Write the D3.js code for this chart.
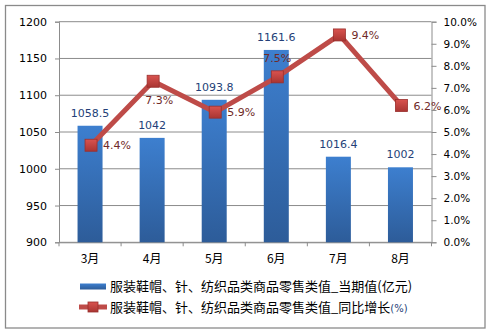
<!DOCTYPE html>
<html>
<head>
<meta charset="utf-8">
<script src="https://cdn.jsdelivr.net/npm/d3@7"></script>
<style>
  html, body { margin: 0; padding: 0; background: #fff; }
  svg { display: block; }
</style>
</head>
<body>
<svg id="chart" width="490" height="333"></svg>
<script>
// Monthly retail sales: clothing, shoes, hats, needles & textiles
const months = ["3月", "4月", "5月", "6月", "7月", "8月"];
const salesValue = [1058.5, 1042, 1093.8, 1161.6, 1016.4, 1002];   // 亿元
const yoyGrowth = [4.4, 7.3, 5.9, 7.5, 9.4, 6.2];                  // %
const leftTicks = [900, 950, 1000, 1050, 1100, 1150, 1200];
const rightTicks = [0, 1, 2, 3, 4, 5, 6, 7, 8, 9, 10];
const growthLabelSide = ["right", "below", "right", "above", "right", "right"];
const legendNames = ["服装鞋帽、针、纺织品类商品零售类值_当期值(亿元)", "服装鞋帽、针、纺织品类商品零售类值_同比增长"];

const svg = d3.select("#chart");
const numFont = "'DejaVu Sans', Verdana, sans-serif";
const cjkFont = "'Noto Sans CJK SC', sans-serif";

const plot = { left: 59, right: 431.5, top: 21.7, bottom: 242.3 };

const x = d3.scaleBand().domain(months).range([plot.left, plot.right]).paddingInner(0).paddingOuter(0);
const yL = d3.scaleLinear().domain([900, 1200]).range([plot.bottom, plot.top]);
const yR = d3.scaleLinear().domain([0, 10]).range([plot.bottom, plot.top]);

// gradients
const defs = svg.append("defs");
const barGrad = defs.append("linearGradient").attr("id", "barGrad").attr("x1", 0).attr("y1", 0).attr("x2", 0).attr("y2", 1);
barGrad.append("stop").attr("offset", "0%").attr("stop-color", "#3d7fcf");
barGrad.append("stop").attr("offset", "100%").attr("stop-color", "#2d5c99");
const mkGrad = defs.append("linearGradient").attr("id", "mkGrad").attr("x1", 0).attr("y1", 0).attr("x2", 0).attr("y2", 1);
mkGrad.append("stop").attr("offset", "0%").attr("stop-color", "#d9534f");
mkGrad.append("stop").attr("offset", "100%").attr("stop-color", "#a93532");

// outer frame
svg.append("rect").attr("x", 5.5).attr("y", 5.5).attr("width", 479.5).attr("height", 322.5)
  .attr("fill", "#fff").attr("stroke", "#8a8a8a").attr("stroke-width", 1.3);

// horizontal gridlines
svg.append("g").selectAll("line").data(leftTicks).join("line")
  .attr("x1", plot.left).attr("x2", plot.right)
  .attr("y1", d => yL(d)).attr("y2", d => yL(d))
  .attr("stroke", "#8c8c8c").attr("stroke-width", 1);

// left axis
const axL = svg.append("g").attr("transform", `translate(${plot.left},0)`)
  .call(d3.axisLeft(yL).tickValues(leftTicks).tickSize(4).tickPadding(8).tickFormat(d3.format("d")));
axL.select(".domain").attr("stroke", "#8c8c8c");
axL.selectAll(".tick line").attr("stroke", "#8c8c8c");
axL.selectAll("text").attr("font-family", numFont).attr("font-size", 11).attr("fill", "#000");

// right axis
const axR = svg.append("g").attr("transform", `translate(${plot.right},0)`)
  .call(d3.axisRight(yR).tickValues(rightTicks).tickSize(5).tickPadding(7).tickFormat(d => d.toFixed(1) + "%"));
axR.select(".domain").attr("stroke", "#8c8c8c");
axR.selectAll(".tick line").attr("stroke", "#8c8c8c");
axR.selectAll("text").attr("font-family", numFont).attr("font-size", 10.5).attr("fill", "#000");

// bottom axis with ticks on category boundaries
const axB = svg.append("g").attr("transform", `translate(0,${plot.bottom})`)
  .call(d3.axisBottom(x).tickSize(0).tickPadding(12));
axB.select(".domain").attr("stroke", "#8c8c8c");
axB.selectAll("text").attr("font-family", cjkFont).attr("font-size", 12).attr("fill", "#000");
const bounds = months.map(m => x(m)).concat([plot.right]);
svg.append("g").selectAll("line").data(bounds).join("line")
  .attr("x1", d => d).attr("x2", d => d)
  .attr("y1", plot.bottom).attr("y2", plot.bottom + 4)
  .attr("stroke", "#8c8c8c");

// bars
const barW = 25;
svg.append("g").selectAll("rect").data(salesValue).join("rect")
  .attr("x", (d, i) => x(months[i]) + x.bandwidth() / 2 - barW / 2)
  .attr("y", d => yL(d))
  .attr("width", barW)
  .attr("height", d => yL(900) - yL(d))
  .attr("fill", "url(#barGrad)");

// bar value labels
svg.append("g").selectAll("text").data(salesValue).join("text")
  .attr("x", (d, i) => x(months[i]) + x.bandwidth() / 2)
  .attr("y", d => yL(d) - 9)
  .attr("text-anchor", "middle")
  .attr("font-family", numFont).attr("font-size", 11)
  .attr("fill", "#243f78")
  .text(d => d3.format("")(d));

// growth line
const cx = (d, i) => x(months[i]) + x.bandwidth() / 2 + 1;
const line = d3.line().x((d, i) => cx(d, i)).y(d => yR(d));
svg.append("path").datum(yoyGrowth)
  .attr("d", line).attr("fill", "none")
  .attr("stroke", "#be4b48").attr("stroke-width", 5).attr("stroke-linejoin", "round");

// markers
const mk = 12;
svg.append("g").selectAll("rect").data(yoyGrowth).join("rect")
  .attr("x", (d, i) => cx(d, i) - mk / 2)
  .attr("y", d => yR(d) - mk / 2)
  .attr("width", mk).attr("height", mk)
  .attr("fill", "url(#mkGrad)").attr("stroke", "#9a2f2c").attr("stroke-width", 0.8);

// growth labels
svg.append("g").selectAll("text").data(yoyGrowth).join("text")
  .attr("x", (d, i) => {
    const side = growthLabelSide[i];
    return side === "right" ? cx(d, i) + 12 : cx(d, i) + (side === "below" ? 6 : 0);
  })
  .attr("y", (d, i) => {
    const side = growthLabelSide[i];
    const base = yR(d) + 4;
    return side === "below" ? base + 19 : side === "above" ? base - 19 : base;
  })
  .attr("text-anchor", (d, i) => growthLabelSide[i] === "right" ? "start" : "middle")
  .attr("font-family", numFont).attr("font-size", 11)
  .attr("fill", "#6f2a28")
  .text(d => d.toFixed(1) + "%");

// legend
const lg = svg.append("g");
const lgY = [286.5, 307];
lg.append("rect").attr("x", 80).attr("y", lgY[0] - 3).attr("width", 26).attr("height", 6).attr("fill", "url(#barGrad)");
lg.append("line").attr("x1", 79).attr("x2", 107).attr("y1", lgY[1]).attr("y2", lgY[1])
  .attr("stroke", "#be4b48").attr("stroke-width", 5);
lg.append("rect").attr("x", 93 - 5).attr("y", lgY[1] - 5).attr("width", 10).attr("height", 10)
  .attr("fill", "url(#mkGrad)").attr("stroke", "#9a2f2c").attr("stroke-width", 0.8);
lg.append("text").attr("x", 110).attr("y", lgY[0] + 4.5)
  .attr("font-family", cjkFont).attr("font-size", 13).attr("fill", "#000")
  .text(legendNames[0]);
const t2 = lg.append("text").attr("x", 110).attr("y", lgY[1] + 4.5)
  .attr("font-family", cjkFont).attr("font-size", 13).attr("fill", "#000");
t2.append("tspan").text(legendNames[1]);
t2.append("tspan").attr("font-family", numFont).attr("font-size", 10).attr("fill", "#243f78").text("(%)");
</script>
</body>
</html>
